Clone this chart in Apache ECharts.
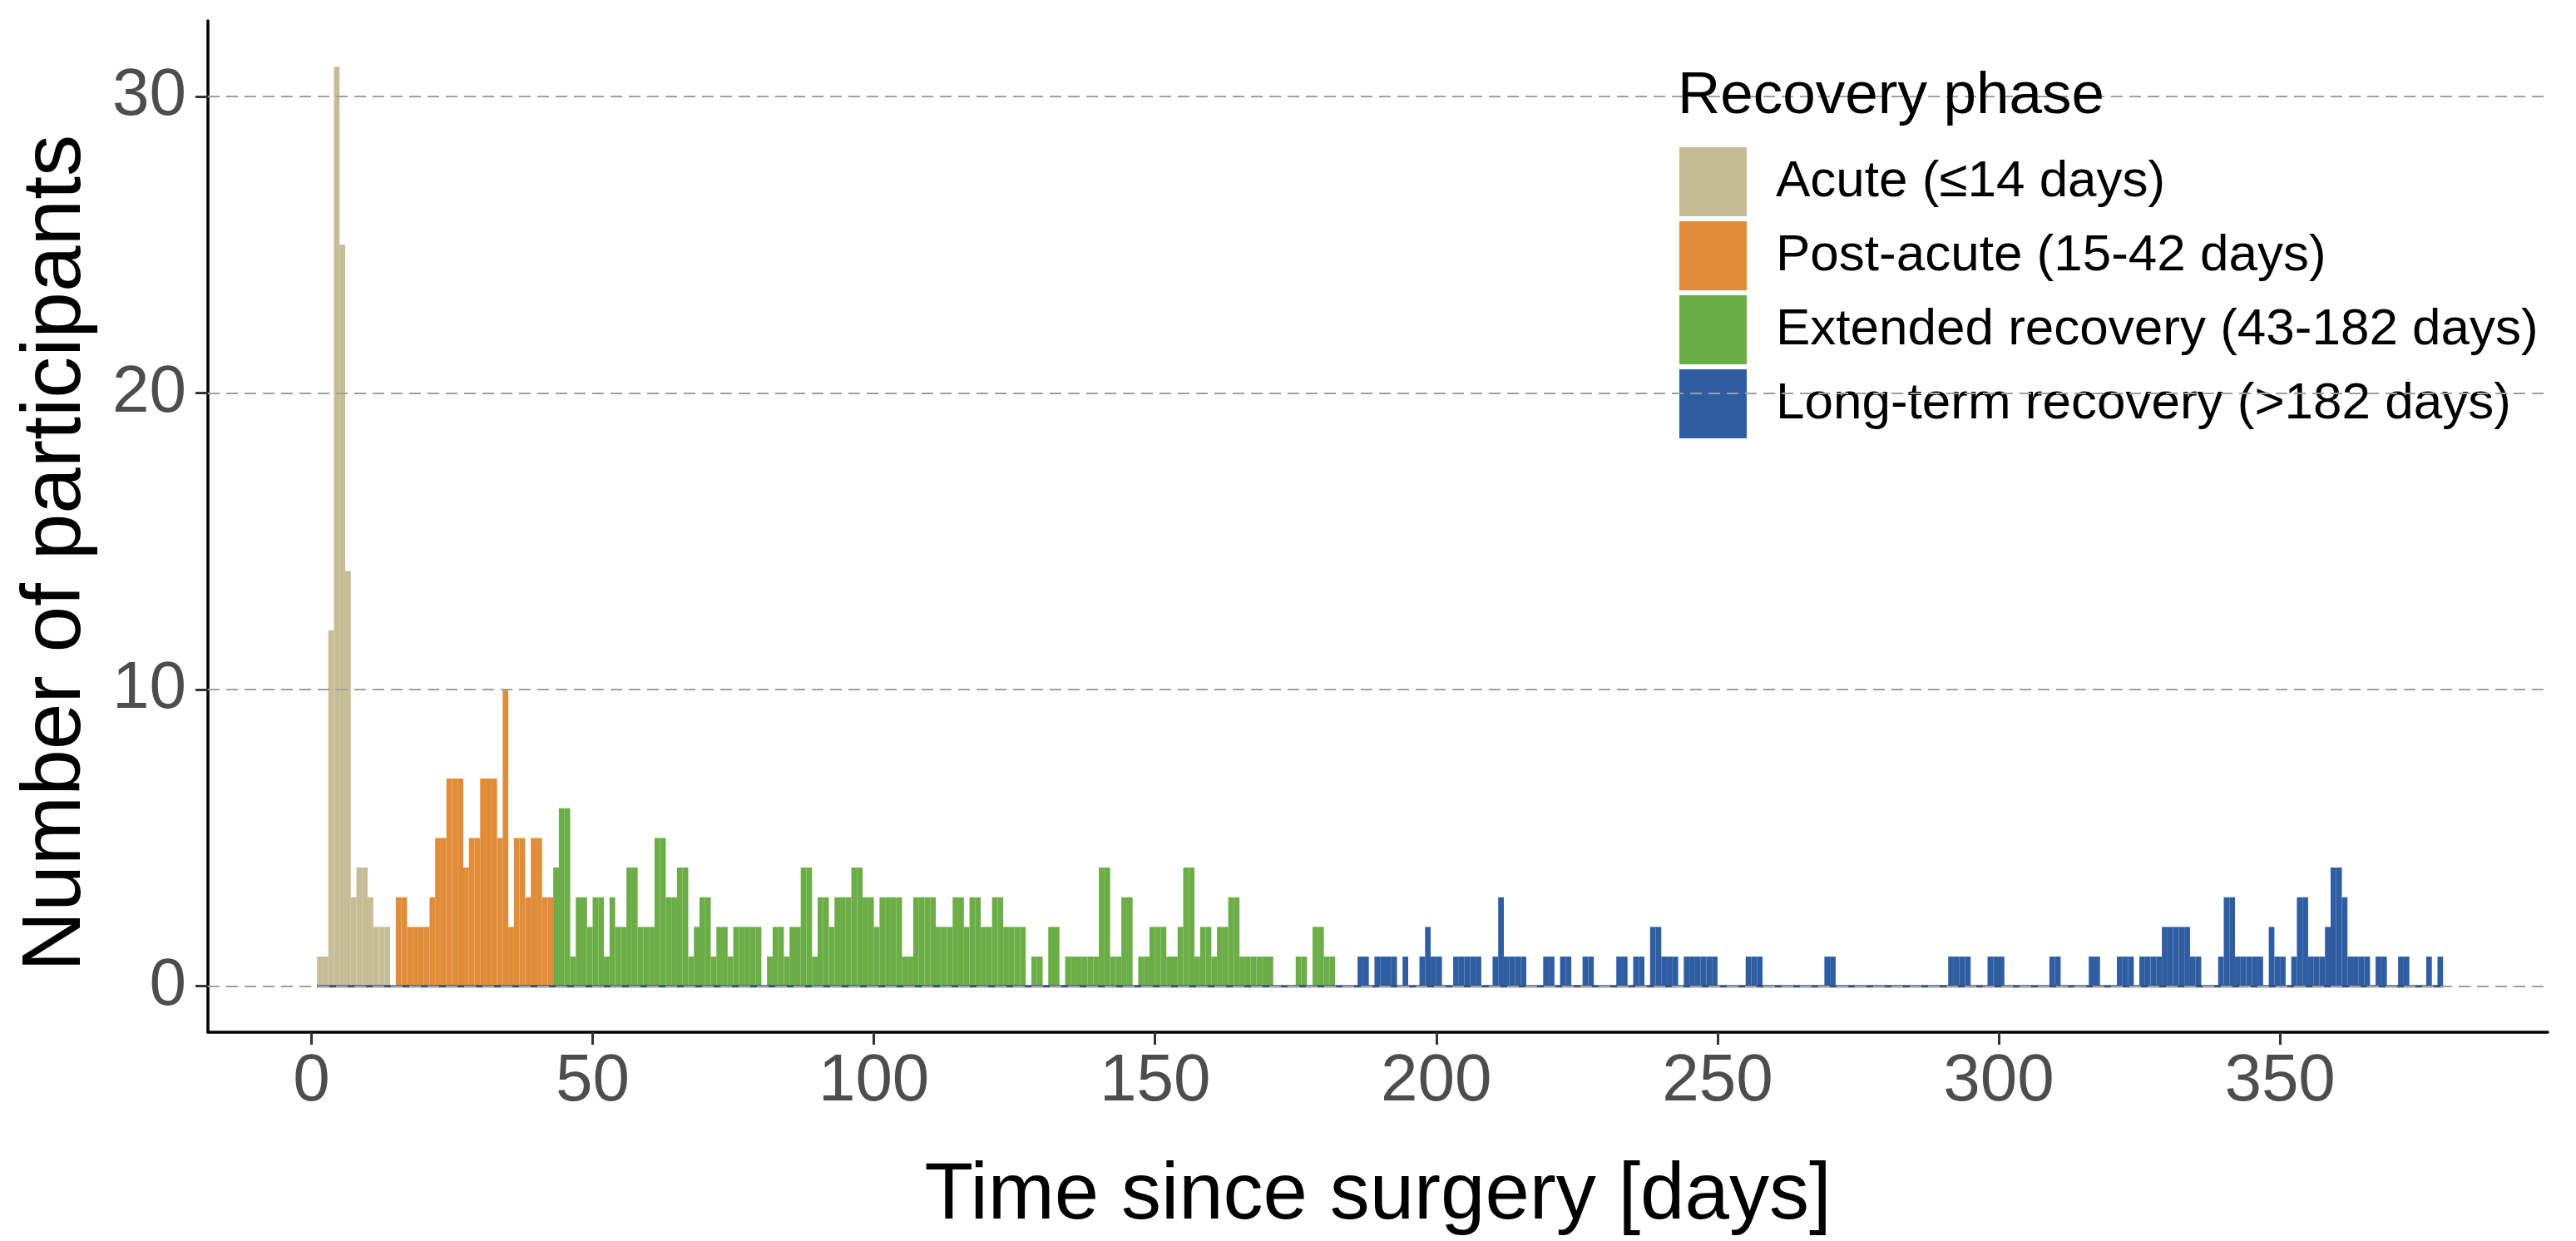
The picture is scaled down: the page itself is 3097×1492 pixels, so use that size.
<!DOCTYPE html>
<html>
<head>
<meta charset="utf-8">
<script src="https://cdn.jsdelivr.net/npm/echarts@6/dist/echarts.min.js"></script>
<style>
html,body{margin:0;padding:0;background:#ffffff;}
#chart{width:3097px;height:1492px;}
</style>
</head>
<body>
<div id="chart"></div>
<script>
// ---- data ----
const phaseNames = ['Acute (≤14 days)', 'Post-acute (15-42 days)', 'Extended recovery (43-182 days)', 'Long-term recovery (>182 days)'];
const phaseColors = ['#C6BD96', '#E08C39', '#6BAD46', '#2E5DA2'];
const phaseStartDays = [1, 15, 43, 183];

// counts per day, days 1-14
const acuteCounts = [1, 1, 12, 31, 25, 14, 3, 4, 4, 3, 2, 2, 2, 0];
// days 15-42
const postAcuteCounts = [3, 3, 2, 2, 2, 2, 3, 5, 5, 7, 7, 7, 4, 5, 5, 7, 7, 7, 5, 10, 2, 5, 5, 3, 5, 5, 3, 3];
// days 43-182
const extendedCounts = [
  4, 6, 6, 1, 3, 3, 2, 3, 3, 1,
  3, 2, 2, 4, 4, 2, 2, 2, 5, 5,
  3, 3, 4, 4, 1, 2, 3, 3, 1, 2,
  2, 1, 2, 2, 2, 2, 2, 0, 1, 2,
  2, 1, 2, 2, 4, 4, 1, 3, 3, 2,
  3, 3, 3, 4, 4, 3, 3, 2, 3, 3,
  3, 3, 1, 1, 3, 3, 3, 3, 2, 2,
  2, 3, 3, 2, 3, 3, 2, 2, 3, 3,
  2, 2, 2, 2, 0, 1, 1, 0, 2, 2,
  0, 1, 1, 1, 1, 1, 1, 4, 4, 1,
  1, 3, 3, 0, 1, 1, 2, 2, 2, 1,
  1, 2, 4, 4, 1, 2, 2, 1, 2, 2,
  3, 3, 1, 1, 1, 1, 1, 1, 0, 0,
  0, 0, 1, 1, 0, 2, 2, 1, 1, 0
];
// days 183-378
const longTermCounts = [
  0, 0, 0, 1, 1, 0, 1, 1, 1, 1,
  0, 1, 0, 0, 1, 2, 1, 1, 0, 0,
  1, 1, 1, 1, 1, 0, 0, 1, 3, 1,
  1, 1, 1, 0, 0, 0, 1, 1, 0, 1,
  1, 0, 0, 1, 1, 0, 0, 0, 0, 1,
  1, 0, 1, 1, 0, 2, 2, 1, 1, 1,
  0, 1, 1, 1, 1, 1, 1, 0, 0, 0,
  0, 0, 1, 1, 1, 0, 0, 0, 0, 0,
  0, 0, 0, 0, 0, 0, 1, 1, 0, 0,
  0, 0, 0, 0, 0, 0, 0, 0, 0, 0,
  0, 0, 0, 0, 0, 0, 0, 0, 1, 1,
  1, 1, 0, 0, 0, 1, 1, 1, 0, 0,
  0, 0, 0, 0, 0, 0, 1, 1, 0, 0,
  0, 0, 0, 1, 1, 0, 0, 0, 1, 1,
  1, 0, 1, 1, 1, 1, 2, 2, 2, 2,
  2, 1, 1, 0, 0, 0, 1, 3, 3, 1,
  1, 1, 1, 1, 0, 2, 1, 1, 0, 1,
  3, 3, 1, 1, 1, 2, 4, 4, 3, 1,
  1, 1, 1, 0, 1, 1, 0, 0, 1, 1,
  0, 0, 0, 1, 0, 1
];

const xTicks = [0, 50, 100, 150, 200, 250, 300, 350];
const yTicks = [0, 10, 20, 30];

// ---- chart ----
const FONT = '"Liberation Sans", Arial, Helvetica, sans-serif';
const phaseCounts = [acuteCounts, postAcuteCounts, extendedCounts, longTermCounts];
const firstDay = phaseStartDays[0];
const lastDay = phaseStartDays[3] + longTermCounts.length - 1;

function renderBar(params, api) {
  const d = api.value(0);
  const c = api.value(1);
  const tl = api.coord([d, c]);
  const br = api.coord([d + 1, 0]);
  return {
    type: 'rect',
    shape: { x: tl[0], y: tl[1], width: br[0] - tl[0], height: br[1] - tl[1] },
    style: { fill: api.visual('color') }
  };
}

const barSeries = phaseNames.map((name, k) => ({
  name: name,
  type: 'custom',
  renderItem: renderBar,
  encode: { x: 0, y: 1 },
  itemStyle: { color: phaseColors[k] },
  z: 2,
  silent: true,
  data: phaseCounts[k]
    .map((c, i) => [phaseStartDays[k] + i, c])
    .filter(p => p[1] > 0)
}));

const chart = echarts.init(document.getElementById('chart'), null, { renderer: 'canvas' });
chart.setOption({
  animation: false,
  backgroundColor: '#ffffff',
  title: {
    text: 'Recovery phase',
    left: 2012,
    top: 76,
    textStyle: { fontFamily: FONT, fontSize: 71, fontWeight: 'normal', color: '#000000' }
  },
  legend: {
    orient: 'vertical',
    left: 2014,
    top: 172,
    itemWidth: 81,
    itemHeight: 83,
    itemGap: 6,
    icon: 'rect',
    selectedMode: false,
    data: phaseNames,
    textStyle: { fontFamily: FONT, fontSize: 62, color: '#000000', padding: [0, 0, 0, 30] }
  },
  grid: { left: 250, right: 34, top: 25, bottom: 240, containLabel: false },
  xAxis: {
    type: 'value',
    min: -18.4,
    max: 397.6,
    axisLine: { show: true, onZero: false, lineStyle: { color: '#000000', width: 3.5 } },
    axisTick: { show: true, length: 15, customValues: xTicks, lineStyle: { color: '#333333', width: 3 } },
    axisLabel: { customValues: xTicks, fontFamily: FONT, fontSize: 80, color: '#4d4d4d', margin: 20 },
    splitLine: { show: false },
    name: 'Time since surgery [days]',
    nameLocation: 'middle',
    nameGap: 150,
    nameTextStyle: { fontFamily: FONT, fontSize: 96, color: '#000000' }
  },
  yAxis: {
    type: 'value',
    min: -1.55,
    max: 32.55,
    axisLine: { show: true, onZero: false, lineStyle: { color: '#000000', width: 3.5 } },
    axisTick: { show: true, length: 15, customValues: yTicks, lineStyle: { color: '#333333', width: 3 } },
    axisLabel: { customValues: yTicks, fontFamily: FONT, fontSize: 80, color: '#4d4d4d', margin: 26 },
    splitLine: { show: false },
    name: 'Number of participants',
    nameLocation: 'middle',
    nameGap: 132,
    nameTextStyle: { fontFamily: FONT, fontSize: 100, color: '#000000', padding: [0, 64, 0, 0] }
  },
  series: [
    {
      name: 'grid',
      type: 'line',
      data: [],
      z: 1,
      silent: true,
      markLine: {
        silent: true,
        symbol: 'none',
        label: { show: false },
        lineStyle: { color: '#a0a0a0', width: 2, type: [14, 8] },
        data: yTicks.map(v => ({ yAxis: v }))
      }
    }
  ].concat(barSeries).concat([
    {
      name: 'baseline',
      type: 'line',
      z: 3,
      silent: true,
      symbol: 'none',
      lineStyle: { color: '#34507c', width: 3 },
      data: [[firstDay, 0], [lastDay + 1, 0]]
    }
  ])
});
</script>
</body>
</html>
